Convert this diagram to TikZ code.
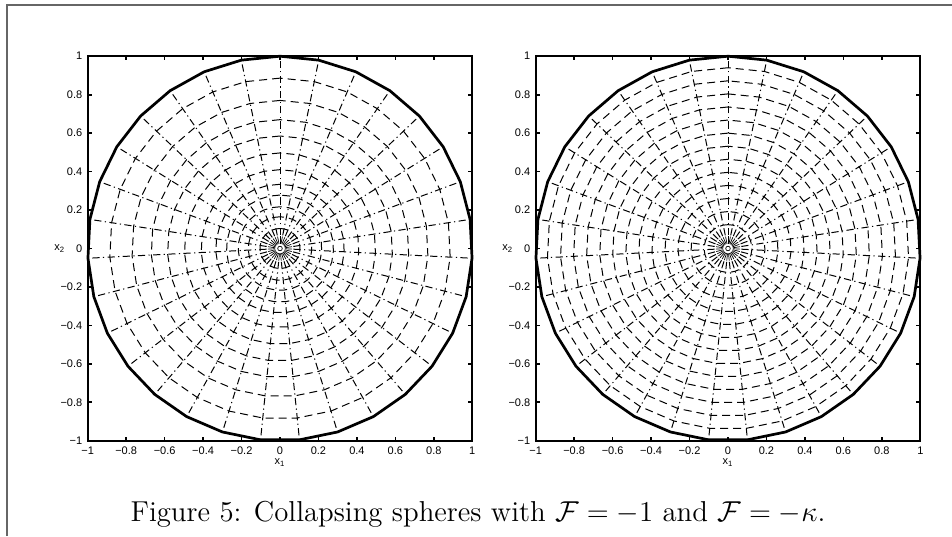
\documentclass[tikz,border=0pt]{standalone}
\usepackage{fontspec}
\setsansfont{Liberation Sans}
\usetikzlibrary{calc}
\tikzset{
  every picture/.style={line width=0.6pt},
  axisbox/.style={line width=0.85pt},
  sphere/.style={line width=1.35pt, line join=round},
  ring/.style={line width=0.5pt, dash pattern=on 4pt off 2.5pt},
  ray/.style={line width=0.5pt, dash pattern=on 3.6pt off 1.7pt on 0.6pt off 1.7pt},
  burst/.style={line width=0.35pt},
  ticklabel/.style={font=\sffamily\fontsize{5.5}{6}\selectfont, inner sep=1pt},
  caption/.style={font=\fontsize{14.4}{17}\selectfont},
}
% one panel: #1 centre x (px), #2 name, #3 radii of the dashed rings
\newcommand\spherepanel[3]{%
  \begin{scope}[shift={(#1,248.5)}, x=96.15pt, y=96.15pt]
    % trajectories of the 31 points
    \foreach \k in {0,...,30}{
      \draw[ray] ({90+\k*360/31}:0.07) -- ({90+\k*360/31}:1);
      \draw[burst] ({90+\k*360/31}:0.025) -- ({90+\k*360/31}:0.063);
    }
    % intermediate fronts
    \foreach \r in {#3}
      \draw[ring] (90:\r) \foreach \k in {1,...,30}{ -- ({90+\k*360/31}:\r) } -- cycle;
    % initial sphere
    \draw[sphere] (90:1) \foreach \k in {1,...,30}{ -- ({90+\k*360/31}:1) } -- cycle;
    \draw[burst] (0,0) circle (0.012);
    % axes
    \draw[axisbox] (-1,-1) rectangle (1,1);
    \foreach \i in {-4,...,4}{
      \draw[axisbox] (\i/5,-1) -- ++(0,0.02) (\i/5,1) -- ++(0,-0.02);
      \draw[axisbox] (-1,\i/5) -- ++(0.02,0) (1,\i/5) -- ++(-0.02,0);
    }
    \foreach \v/\s [count=\n] in {-1/−1,-0.8/−0.8,-0.6/−0.6,-0.4/−0.4,-0.2/−0.2,0/0,0.2/0.2,0.4/0.4,0.6/0.6,0.8/0.8,1/1}{
      \node[ticklabel, anchor=north] (#2x\n) at (\v,-1.02) {\s};
      \node[ticklabel, anchor=east] (#2y\n) at (-1.015,\v) {\s};
    }
    \node[ticklabel] (#2xl) at (0,-1.115) {x\textsubscript{1}};
    \node[ticklabel] (#2yl) at (-1.145,0.0) {x\textsubscript{2}};
  \end{scope}}

\begin{document}
\begin{tikzpicture}[x=0.5pt, y=-0.5pt]
  \useasboundingbox (0,0) rectangle (952,536);
  \draw[gray!80!black, line width=0.6pt] (7,536) -- (7,5) -- (952,5);
  \spherepanel{280}{left}{0.886,0.77,0.67,0.585,0.497,0.41,0.334,0.278,0.217,0.165,0.104}
  \spherepanel{728}{right}{0.94,0.872,0.804,0.736,0.668,0.60,0.532,0.464,0.396,0.328,0.26,0.192,0.124}
  \node[caption, anchor=base] (cap) at (478,521) {Figure 5: Collapsing spheres with $\mathcal{F}=-1$ and $\mathcal{F}=-\kappa$.};
\end{tikzpicture}
\end{document}
